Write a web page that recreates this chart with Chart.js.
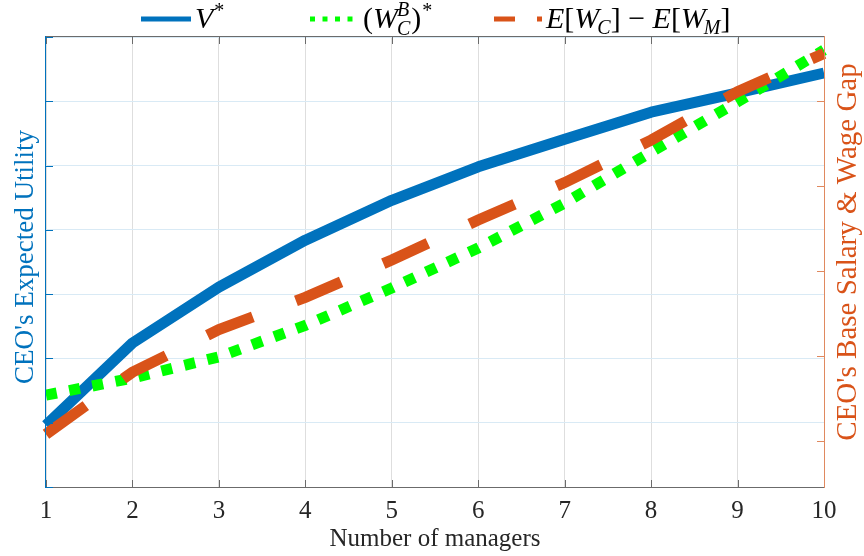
<!DOCTYPE html>
<html>
<head>
<meta charset="utf-8">
<script src="https://cdn.jsdelivr.net/npm/chart.js@4/dist/chart.umd.min.js"></script>
<style>
  html, body { margin: 0; padding: 0; background: #ffffff; }
  #wrap { width: 864px; height: 556px; }
</style>
</head>
<body>
<div id="wrap"><canvas id="c" width="864" height="556"></canvas></div>
<script>
// Number of managers on the horizontal axis
const managers = [1, 2, 3, 4, 5, 6, 7, 8, 9, 10];
// CEO's expected utility (left axis)
const expectedUtility = [0.96, 2.24, 3.11, 3.84, 4.46, 4.98, 5.41, 5.83, 6.13, 6.44];
// CEO's base salary (right axis)
const baseSalary = [1.54, 1.74, 1.99, 2.36, 2.80, 3.27, 3.80, 4.40, 4.99, 5.60];
// Wage gap E[W_C] - E[W_M] (right axis)
const wageGap = [1.08, 1.81, 2.31, 2.69, 3.13, 3.60, 4.04, 4.54, 5.11, 5.56];
// Tick positions (unlabelled) for both vertical axes
const leftTicks = [0, 1, 2, 3, 4, 5, 6, 7];
const rightTicks = [1, 2, 3, 4, 5];
const rightRange = [0.459, 5.753];

const BLUE = '#0072BD';
const GREEN = '#00FF00';
const ORANGE = '#D95319';
const AXIS_GRAY = '#262626';
const SERIF = '"Liberation Serif", "Times New Roman", serif';

function fnt(size, italic) {
  return (italic ? 'italic ' : '') + size + 'px ' + SERIF;
}

// Draw a run of text pieces (with sub/superscripts) left to right
function drawRich(ctx, x, baseY, parts) {
  for (const p of parts) {
    if (p.stack) {
      ctx.font = fnt(p.size, p.italic);
      const w1 = ctx.measureText(p.sup).width;
      const w2 = ctx.measureText(p.sub).width;
      ctx.fillText(p.sup, x, baseY - p.rise);
      ctx.fillText(p.sub, x, baseY + p.drop);
      x += Math.max(w1, w2) + (p.after || 0);
    } else {
      ctx.font = fnt(p.size, p.italic);
      ctx.fillText(p.t, x, baseY + (p.dy || 0));
      x += ctx.measureText(p.t).width + (p.after || 0);
    }
  }
  return x;
}

// Legend across the top with math-style labels
const mathLegend = {
  id: 'mathLegend',
  afterDraw(chart) {
    const ctx = chart.ctx;
    const y = 19;
    const base = 28;
    ctx.save();
    ctx.lineCap = 'butt';
    ctx.lineWidth = 5;

    ctx.strokeStyle = BLUE;
    ctx.setLineDash([]);
    ctx.beginPath(); ctx.moveTo(141, y); ctx.lineTo(191, y); ctx.stroke();

    ctx.strokeStyle = GREEN;
    ctx.setLineDash([5, 7.5]);
    ctx.beginPath(); ctx.moveTo(310, y); ctx.lineTo(357, y); ctx.stroke();

    ctx.strokeStyle = ORANGE;
    ctx.setLineDash([21, 22]);
    ctx.beginPath(); ctx.moveTo(494, y); ctx.lineTo(542, y); ctx.stroke();
    ctx.setLineDash([]);

    ctx.fillStyle = '#000000';
    ctx.textBaseline = 'alphabetic';
    ctx.textAlign = 'left';
    drawRich(ctx, 195, base, [
      { t: 'V', size: 30, italic: true, after: 1 },
      { t: '*', size: 20, dy: -11 }
    ]);
    drawRich(ctx, 363, base, [
      { t: '(', size: 30 },
      { t: 'W', size: 30, italic: true, after: -1 },
      { stack: true, sup: 'B', sub: 'C', size: 20, italic: true, rise: 12, drop: 7, after: 1 },
      { t: ')', size: 30, after: 1 },
      { t: '*', size: 20, dy: -11 }
    ]);
    drawRich(ctx, 546, base, [
      { t: 'E', size: 30, italic: true },
      { t: '[', size: 30 },
      { t: 'W', size: 30, italic: true, after: -2 },
      { t: 'C', size: 20, italic: true, dy: 6 },
      { t: ']', size: 30 },
      { t: ' \u2212 ', size: 30 },
      { t: 'E', size: 30, italic: true },
      { t: '[', size: 30 },
      { t: 'W', size: 30, italic: true, after: -2 },
      { t: 'M', size: 20, italic: true, dy: 6 },
      { t: ']', size: 30 }
    ]);
    ctx.restore();
  }
};

// Box frame with inward ticks and axis titles
const axesFrame = {
  id: 'axesFrame',
  afterDraw(chart) {
    const ctx = chart.ctx;
    const { left, right, top, bottom } = chart.chartArea;
    const xs = chart.scales.x, yl = chart.scales.y, yr = chart.scales.y2;
    const TL = 7;
    ctx.save();
    ctx.lineWidth = 1;
    ctx.setLineDash([]);

    // top and bottom edges + x ticks
    ctx.strokeStyle = '#6b6b6b';
    ctx.beginPath();
    ctx.moveTo(left, bottom + 0.5); ctx.lineTo(right, bottom + 0.5);
    ctx.moveTo(left, top - 0.5); ctx.lineTo(right, top - 0.5);
    managers.forEach((m, i) => {
      const px = Math.round(xs.getPixelForValue(i)) + 0.5;
      ctx.moveTo(px, bottom); ctx.lineTo(px, bottom - TL);
      ctx.moveTo(px, top); ctx.lineTo(px, top + TL);
    });
    ctx.stroke();

    // left axis
    ctx.strokeStyle = BLUE;
    ctx.beginPath();
    ctx.moveTo(left - 0.5, top - 1); ctx.lineTo(left - 0.5, bottom + 1);
    leftTicks.forEach(v => {
      const py = Math.round(yl.getPixelForValue(v)) + 0.5;
      ctx.moveTo(left, py); ctx.lineTo(left + TL, py);
    });
    ctx.stroke();

    // right axis
    ctx.strokeStyle = '#e0895f';
    ctx.beginPath();
    ctx.moveTo(right + 0.5, top - 1); ctx.lineTo(right + 0.5, bottom + 1);
    rightTicks.forEach(v => {
      const py = Math.round(yr.getPixelForValue(v)) + 0.5;
      ctx.moveTo(right, py); ctx.lineTo(right - TL, py);
    });
    ctx.stroke();

    // axis titles
    ctx.textAlign = 'center';
    ctx.textBaseline = 'middle';
    ctx.fillStyle = AXIS_GRAY;
    ctx.font = fnt(25, false);
    ctx.fillText('Number of managers', (left + right) / 2, 539);

    ctx.save();
    ctx.translate(26, 257);
    ctx.rotate(-Math.PI / 2);
    ctx.fillStyle = BLUE;
    ctx.font = fnt(27, false);
    ctx.fillText("CEO's Expected Utility", 0, 0);
    ctx.restore();

    ctx.save();
    ctx.translate(848, 252);
    ctx.rotate(-Math.PI / 2);
    ctx.fillStyle = ORANGE;
    ctx.font = fnt(29, false);
    ctx.fillText("CEO's Base Salary & Wage Gap", 0, 0);
    ctx.restore();

    ctx.restore();
  }
};

new Chart(document.getElementById('c'), {
  type: 'line',
  data: {
    labels: managers.map(String),
    datasets: [
      {
        label: 'V*',
        data: expectedUtility,
        yAxisID: 'y',
        borderColor: BLUE,
        borderWidth: 11,
        borderCapStyle: 'butt',
        borderJoinStyle: 'round',
        pointRadius: 0,
        tension: 0,
        fill: false,
        order: 2
      },
      {
        label: '(W_C^B)*',
        data: baseSalary,
        yAxisID: 'y2',
        borderColor: GREEN,
        borderWidth: 11,
        borderDash: [11, 12.6],
        borderCapStyle: 'butt',
        pointRadius: 0,
        tension: 0,
        fill: false,
        order: 1
      },
      {
        label: 'E[W_C] - E[W_M]',
        data: wageGap,
        yAxisID: 'y2',
        borderColor: ORANGE,
        borderWidth: 11,
        borderDash: [49, 46],
        borderCapStyle: 'butt',
        pointRadius: 0,
        tension: 0,
        fill: false,
        order: 0
      }
    ]
  },
  options: {
    responsive: false,
    devicePixelRatio: 1,
    animation: false,
    layout: { padding: { top: 37, left: 0, right: 0, bottom: 0 } },
    plugins: { legend: { display: false }, tooltip: { enabled: false } },
    scales: {
      x: {
        type: 'category',
        offset: false,
        border: { display: false },
        grid: { color: '#dedede', lineWidth: 1, drawTicks: false, offset: false },
        ticks: {
          color: AXIS_GRAY,
          font: { family: SERIF, size: 25 },
          padding: 9,
          autoSkip: false,
          maxRotation: 0
        },
        afterFit: s => { s.height = 69; }
      },
      y: {
        type: 'linear',
        position: 'left',
        min: 0,
        max: 7,
        border: { display: false },
        grid: { color: 'rgb(217,234,245)', lineWidth: 1, drawTicks: false },
        ticks: { display: false, stepSize: 1 },
        afterBuildTicks: s => { s.ticks = leftTicks.map(v => ({ value: v })); },
        afterFit: s => { s.width = 46; }
      },
      y2: {
        type: 'linear',
        position: 'right',
        min: rightRange[0],
        max: rightRange[1],
        border: { display: false },
        grid: { display: false },
        ticks: { display: false },
        afterBuildTicks: s => { s.ticks = rightTicks.map(v => ({ value: v })); },
        afterFit: s => { s.width = 40; }
      }
    }
  },
  plugins: [axesFrame, mathLegend]
});
</script>
</body>
</html>
